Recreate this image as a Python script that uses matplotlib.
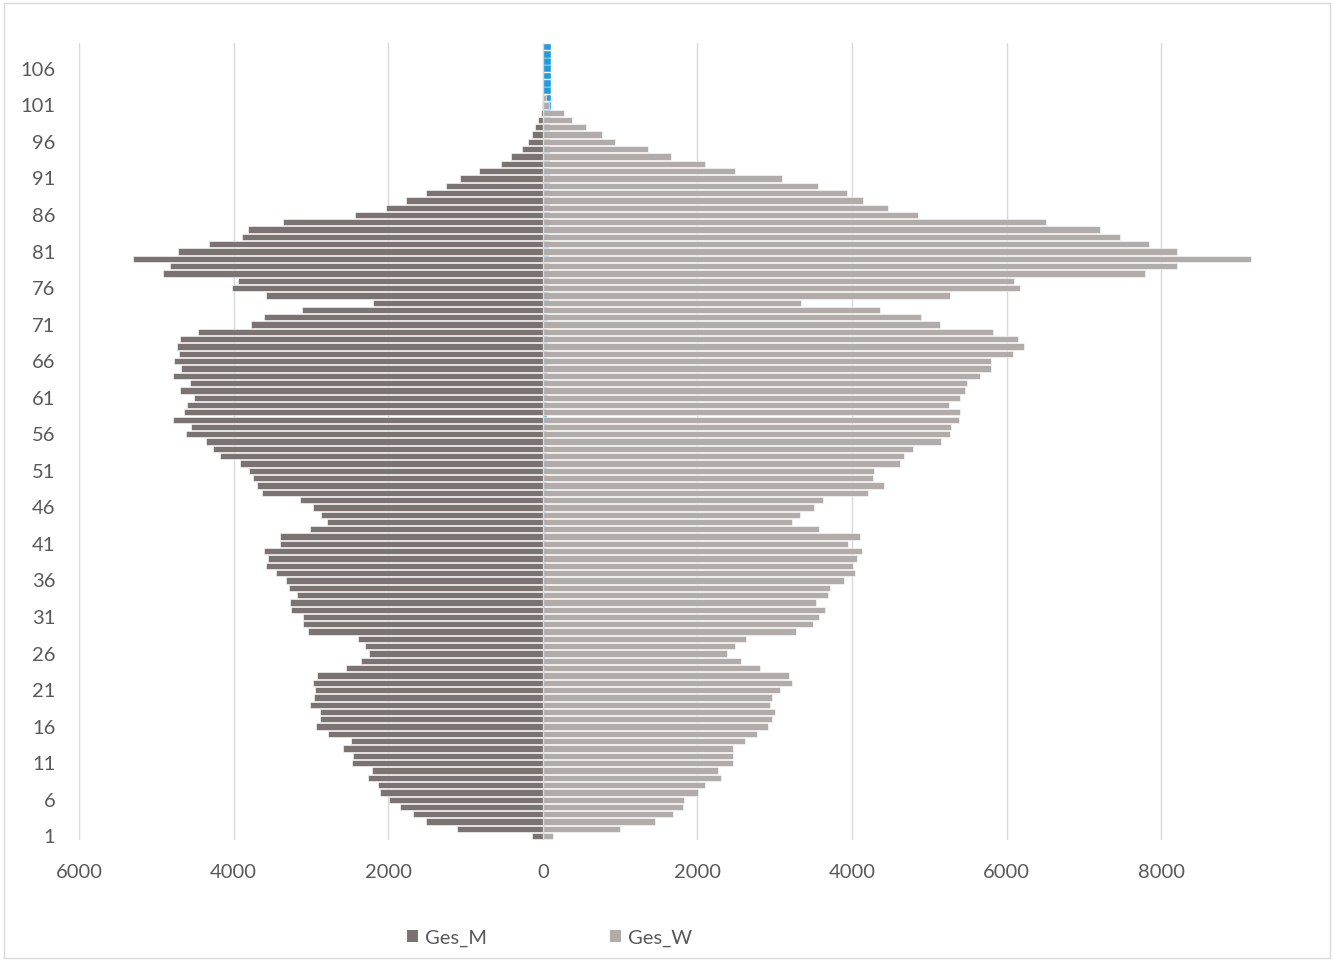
import matplotlib
matplotlib.use('Agg')
import matplotlib.pyplot as plt
from matplotlib.patches import Patch, Rectangle

# age categories 1..109
ages = list(range(1, 110))

# men, counted from age 1 upwards (drawn to the left)
ges_m = [139, 1113, 1506, 1677, 1852, 1991, 2111, 2129, 2259, 2212,
         2471, 2453, 2587, 2485, 2776, 2938, 2878, 2887, 3007, 2961,
         2952, 2975, 2919, 2550, 2356, 2245, 2296, 2388, 3035, 3099,
         3099, 3252, 3275, 3182, 3279, 3326, 3455, 3580, 3552, 3603,
         3404, 3404, 3012, 2790, 2868, 2975, 3141, 3635, 3700, 3755,
         3806, 3922, 4176, 4268, 4356, 4619, 4554, 4790, 4637, 4605,
         4508, 4693, 4564, 4781, 4684, 4776, 4702, 4734, 4693, 4462,
         3778, 3603, 3109, 2194, 3580, 4023, 3940, 4910, 4827, 5298,
         4725, 4323, 3889, 3815, 3363, 2434, 2023, 1769, 1515, 1252,
         1072, 822, 545, 416, 268, 189, 139, 106, 60, 28,
         15, 0, 0, 0, 0, 0, 0, 0, 0]

# women, counted from age 1 upwards
ges_w = [128, 1000, 1445, 1683, 1817, 1829, 2006, 2092, 2299, 2262,
         2458, 2464, 2458, 2610, 2775, 2909, 2958, 3000, 2933, 2958,
         3061, 3220, 3183, 2805, 2561, 2378, 2482, 2622, 3269, 3488,
         3567, 3653, 3537, 3689, 3714, 3897, 4037, 4013, 4067, 4128,
         3945, 4104, 3567, 3226, 3330, 3512, 3628, 4208, 4415, 4275,
         4281, 4622, 4677, 4793, 5147, 5263, 5275, 5385, 5397, 5250,
         5397, 5458, 5482, 5653, 5799, 5793, 6086, 6226, 6141, 5824,
         5141, 4897, 4360, 3342, 5269, 6171, 6092, 7793, 8196, 9159,
         8196, 7836, 7470, 7208, 6513, 4854, 4464, 4147, 3939, 3561,
         3098, 2488, 2098, 1659, 1354, 927, 768, 561, 378, 268,
         80, 40, 0, 0, 0, 0, 0, 0, 0]

# the age column itself ended up as a third (blue) series
age_series = ages

tick_vals = [-6000, -4000, -2000, 0, 2000, 4000, 6000, 8000]
tick_labels = ['6000', '4000', '2000', '0', '2000', '4000', '6000', '8000']
age_ticks = ages[::5]

c_m = '#7B7372'
c_w = '#B1ACAA'
c_age = '#1F9BDE'
txt = '#595959'
grid = '#D9D9D9'

plt.rcParams['font.family'] = ['Lato', 'DejaVu Sans']

fig = plt.figure(figsize=(13.34, 9.61), dpi=100)
ax = fig.add_axes([0.0592, 0.126, 0.9273, 0.829])

# blue series sits behind the gray bars, only peeking out at the gaps
ax.barh(ages, age_series, height=0.92, color=c_age,
        edgecolor='white', linewidth=0.3, zorder=1.5)
ax.barh(ages, [-v for v in ges_m], height=0.86, color=c_m,
        edgecolor='white', linewidth=0.4, zorder=2)
ax.barh(ages, ges_w, height=0.86, color=c_w,
        edgecolor='white', linewidth=0.4, zorder=2)

ax.axvline(0, color=grid, lw=1, zorder=4)

ax.set_xlim(-6000, 10000)
ax.set_ylim(0.5, 109.5)
ax.set_xticks(tick_vals)
ax.set_xticklabels(tick_labels)
ax.set_yticks(age_ticks)
ax.set_yticklabels([str(a) for a in age_ticks])
ax.xaxis.grid(True, color=grid, lw=1)
ax.set_axisbelow(True)
for s in ax.spines.values():
    s.set_visible(False)
ax.tick_params(axis='both', length=0, labelcolor=txt, labelsize=14.5)
ax.tick_params(axis='y', pad=17)
ax.tick_params(axis='x', pad=17)

handles = [Patch(facecolor=c_m, label='Ges_M'), Patch(facecolor=c_w, label='Ges_W')]
fig.legend(handles=handles, loc='center', bbox_to_anchor=(0.412, 0.024), ncol=2,
           frameon=False, handlelength=0.55, handleheight=0.55, handletextpad=0.35,
           columnspacing=6.1, fontsize=14.5, labelcolor=txt)

fig.add_artist(Rectangle((0.003, 0.003), 0.994, 0.994, transform=fig.transFigure,
                         fill=False, edgecolor=grid, lw=1))

fig.savefig('out.png', dpi=100)
